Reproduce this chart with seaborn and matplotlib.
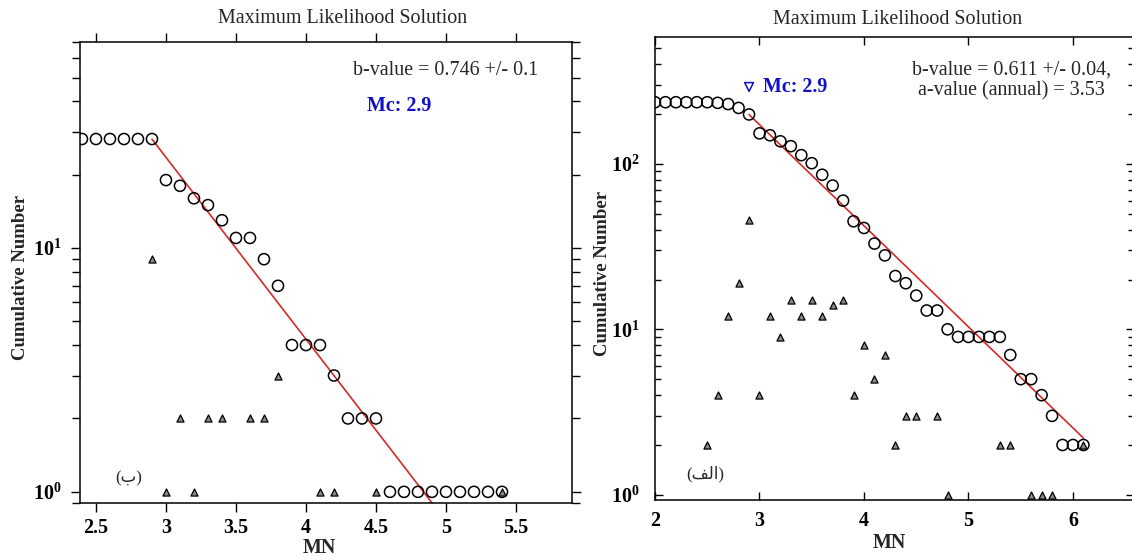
import numpy as np
import pandas as pd
import matplotlib
matplotlib.use("Agg")
import matplotlib.pyplot as plt
import matplotlib.ticker as mticker
from matplotlib.transforms import blended_transform_factory
import seaborn as sns

# Panel (ب) - left: cumulative and non-cumulative frequency-magnitude data
left_mag = [2.4, 2.5, 2.6, 2.7, 2.8, 2.9, 3.0, 3.1, 3.2, 3.3, 3.4, 3.5, 3.6, 3.7, 3.8, 3.9,
            4.0, 4.1, 4.2, 4.3, 4.4, 4.5, 4.6, 4.7, 4.8, 4.9, 5.0, 5.1, 5.2, 5.3, 5.4]
left_cum = [28, 28, 28, 28, 28, 28, 19, 18, 16, 15, 13, 11, 11, 9, 7, 4,
            4, 4, 3, 2, 2, 2, 1, 1, 1, 1, 1, 1, 1, 1, 1]
left_nc_mag = [2.9, 3.0, 3.1, 3.2, 3.3, 3.4, 3.6, 3.7, 3.8, 4.1, 4.2, 4.5, 5.4]
left_nc = [9, 1, 2, 1, 2, 2, 2, 2, 3, 1, 1, 1, 1]
left_b, left_b_err = 0.746, 0.1
left_a = 3.61
left_mc = 2.9
left_xticks = [2.5, 3, 3.5, 4, 4.5, 5, 5.5]
left_xticklabels = ["2.5", "3", "3.5", "4", "4.5", "5", "5.5"]

# Panel (الف) - right
right_mag = [2.0, 2.1, 2.2, 2.3, 2.4, 2.5, 2.6, 2.7, 2.8, 2.9, 3.0, 3.1, 3.2, 3.3, 3.4, 3.5,
             3.6, 3.7, 3.8, 3.9, 4.0, 4.1, 4.2, 4.3, 4.4, 4.5, 4.6, 4.7, 4.8, 4.9, 5.0, 5.1,
             5.2, 5.3, 5.4, 5.5, 5.6, 5.7, 5.8, 5.9, 6.0, 6.1]
right_cum = [236, 236, 236, 236, 236, 236, 234, 230, 218, 199, 153, 149, 137, 128, 113, 101,
             86, 74, 60, 45, 41, 33, 28, 21, 19, 16, 13, 13, 10, 9, 9, 9,
             9, 9, 7, 5, 5, 4, 3, 2, 2, 2]
right_nc_mag = [2.5, 2.6, 2.7, 2.8, 2.9, 3.0, 3.1, 3.2, 3.3, 3.4, 3.5, 3.6, 3.7, 3.8, 3.9,
                4.0, 4.1, 4.2, 4.3, 4.4, 4.5, 4.7, 4.8, 5.3, 5.4, 5.6, 5.7, 5.8, 6.1]
right_nc = [2, 4, 12, 19, 46, 4, 12, 9, 15, 12, 15, 12, 14, 15, 4,
            8, 5, 7, 2, 3, 3, 3, 1, 2, 2, 1, 1, 1, 2]
right_b, right_b_err = 0.611, 0.04
right_a_annual = 3.53
right_a = 4.07
right_mc = 2.9
right_xticks = [2, 3, 4, 5, 6]
right_xticklabels = ["2", "3", "4", "5", "6"]

sns.set_style("ticks")
plt.rcParams["font.family"] = ["Liberation Serif", "DejaVu Sans"]
plt.rcParams["mathtext.fontset"] = "custom"
plt.rcParams["mathtext.bf"] = "Liberation Serif:bold"
plt.rcParams["mathtext.rm"] = "Liberation Serif:bold"
plt.rcParams["axes.linewidth"] = 1.1

FS = 14.4
BLUE = "#1010c8"
RED = "#d42a2a"


def decade_fmt(v, pos):
    return r"$\mathbf{10^{%d}}$" % int(round(np.log10(v)))


def draw_panel(ax, mag, cum, nc_mag, nc, a, b, mc):
    cum_df = pd.DataFrame({"M": mag, "N": cum})
    nc_df = pd.DataFrame({"M": nc_mag, "N": nc})
    fit = cum_df[cum_df["M"] >= mc].copy()
    fit["N"] = 10 ** (a - b * fit["M"])
    sns.lineplot(data=fit, x="M", y="N", ax=ax, color=RED, linewidth=1.2, zorder=2)
    sns.scatterplot(data=nc_df, x="M", y="N", ax=ax, marker="^", s=26,
                    facecolor="#8c8c8c", edgecolor="black", linewidth=0.9, zorder=3)
    sns.scatterplot(data=cum_df, x="M", y="N", ax=ax, marker="o", s=64,
                    facecolor="none", edgecolor="black", linewidth=1.1, zorder=4)
    ax.set_yscale("log")
    ax.yaxis.set_major_locator(mticker.LogLocator(base=10))
    ax.yaxis.set_minor_locator(mticker.LogLocator(base=10, subs=np.arange(2, 10)))
    ax.yaxis.set_major_formatter(mticker.FuncFormatter(decade_fmt))
    ax.yaxis.set_minor_formatter(mticker.NullFormatter())
    ax.set_xlabel("MN", fontsize=FS, fontweight="bold")
    ax.set_ylabel("Cumulative Number", fontsize=13.5, fontweight="bold")
    for lab in ax.get_xticklabels() + ax.get_yticklabels():
        lab.set_fontweight("bold")
    for s in ax.spines.values():
        s.set_visible(True)
        s.set_color("black")


fig = plt.figure(figsize=(11.32, 5.56), dpi=100)

# ---- left panel
ax1 = fig.add_axes([80 / 1132, 53 / 556, 492 / 1132, 461 / 556])
draw_panel(ax1, left_mag, left_cum, left_nc_mag, left_nc, left_a, left_b, left_mc)
ax1.set_xlim(2.386, 5.9)
ax1.set_ylim(0.9, 70)
ax1.set_xticks(left_xticks)
ax1.set_xticklabels(left_xticklabels, fontsize=FS, fontweight="bold")
ax1.tick_params(axis="both", which="both", direction="out", top=True, right=True,
                labeltop=False, labelright=False, width=1.0, colors="black")
ax1.tick_params(axis="both", which="major", length=6.5, labelsize=FS)
ax1.tick_params(axis="y", which="major", pad=7)
ax1.tick_params(axis="x", which="major", pad=4)
ax1.tick_params(axis="y", which="minor", length=6)
ax1.xaxis.set_label_coords(0.486, -0.075)
ax1.yaxis.set_label_coords(-0.104, 0.49)
ax1.text(0.533, 1.052, "Maximum Likelihood Solution", transform=ax1.transAxes,
         ha="center", va="center", fontsize=FS)
ax1.text(0.931, 0.939, f"b-value = {left_b} +/- {left_b_err}", transform=ax1.transAxes,
         ha="right", va="center", fontsize=FS)
ax1.text(0.648, 0.862, f"Mc: {left_mc}", transform=ax1.transAxes, ha="center", va="center",
         fontsize=FS, fontweight="bold", color=BLUE)
ax1.text(0.071, 0.054, "(\u0628)", transform=ax1.transAxes, ha="left", va="center",
         fontsize=12, family=["Liberation Serif", "DejaVu Sans"])

# ---- right panel
ax2 = fig.add_axes([655 / 1132, 56 / 556, 479 / 1132, 463 / 556])
draw_panel(ax2, right_mag, right_cum, right_nc_mag, right_nc, right_a, right_b, right_mc)
ax2.set_xlim(2.0, 6.584)
ax2.set_ylim(0.93, 585)
ax2.set_xticks(right_xticks)
ax2.set_xticklabels(right_xticklabels, fontsize=FS, fontweight="bold")
ax2.tick_params(axis="both", which="both", direction="in", top=True, right=True,
                labeltop=False, labelright=False, width=1.0, colors="black")
ax2.tick_params(axis="both", which="major", length=6, labelsize=FS)
ax2.tick_params(axis="y", which="major", pad=11)
ax2.tick_params(axis="x", which="major", pad=8)
ax2.tick_params(axis="y", which="minor", length=4)
ax2.xaxis.set_label_coords(0.49, -0.071)
ax2.yaxis.set_label_coords(-0.092, 0.49)
ax2.text(0.507, 1.037, "Maximum Likelihood Solution", transform=ax2.transAxes,
         ha="center", va="center", fontsize=FS)
ax2.text(0.744, 0.906,
         f"b-value = {right_b} +/- {right_b_err},\na-value (annual) = {right_a_annual}",
         transform=ax2.transAxes, ha="center", va="center", fontsize=FS, linespacing=1.15)
tr = blended_transform_factory(ax2.transData, ax2.transAxes)
ax2.scatter([right_mc], [0.892], transform=tr, marker="v", s=40, facecolor="none",
            edgecolor=BLUE, linewidth=1.1, zorder=5, clip_on=False)
ax2.text(0.226, 0.892, f"Mc: {right_mc}", transform=ax2.transAxes, ha="left", va="center",
         fontsize=FS, fontweight="bold", color=BLUE)
ax2.text(0.065, 0.056, "(\uFED2\uFEDF\u0627)", transform=ax2.transAxes, ha="left",
         va="center", fontsize=12, family=["Liberation Serif", "DejaVu Sans"])

plt.savefig("out.png", dpi=100)
